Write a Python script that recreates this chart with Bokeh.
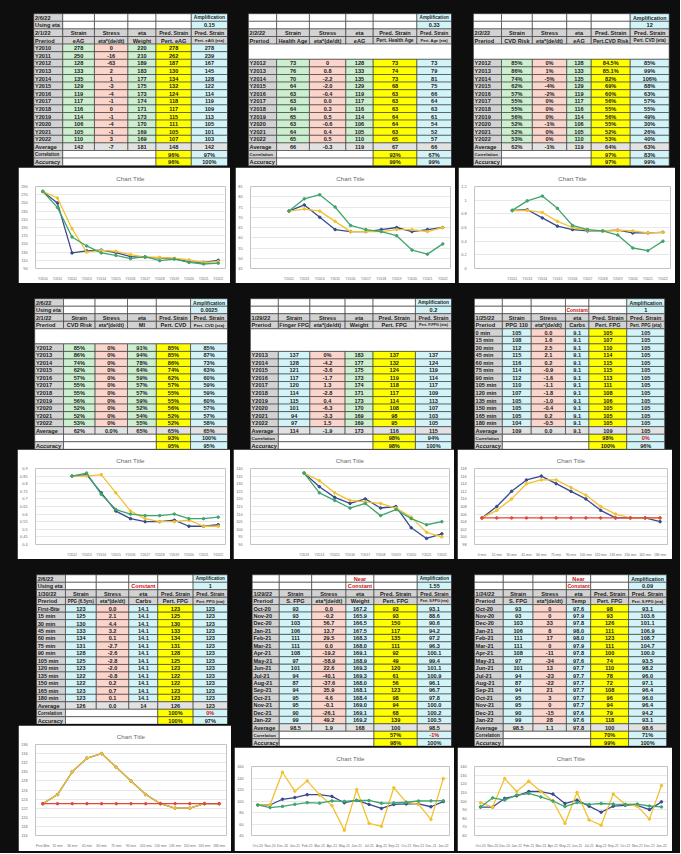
from bokeh.plotting import figure
from bokeh.layouts import row, column
from bokeh.models import Range1d, FactorRange, ColumnDataSource, FixedTicker, Legend, LegendItem
from bokeh.embed import file_html
from bokeh.resources import INLINE
from bokeh.core.properties import value

# ---------------- DATA ----------------
YEARS_10 = ["Y2010", "Y2011", "Y2012", "Y2013", "Y2014", "Y2015", "Y2016", "Y2017", "Y2018", "Y2019", "Y2020", "Y2021", "Y2022"]
YEARS_12 = ["Y2012", "Y2013", "Y2014", "Y2015", "Y2016", "Y2017", "Y2018", "Y2019", "Y2020", "Y2021", "Y2022"]
YEARS_13 = ["Y2013", "Y2014", "Y2015", "Y2016", "Y2017", "Y2018", "Y2019", "Y2020", "Y2021", "Y2022"]
MINUTES_0 = ["0 min", "15 min", "30 min", "45 min", "60 min", "75 min", "90 min", "105 min", "120 min", "135 min", "150 min", "165 min", "180 min"]
MINUTES_FB = ["First-Bite", "15 min", "30 min", "45 min", "60 min", "75 min", "90 min", "105 min", "120 min", "135 min", "150 min", "165 min", "180 min"]
MONTHS = ["Oct-20", "Nov-20", "Dec-20", "Jan-21", "Feb-21", "Mar-21", "Apr-21", "May-21", "Jun-21", "Jul-21", "Aug-21", "Sep-21", "Oct-21", "Nov-21", "Dec-21", "Jan-22"]

P1A_STRAIN = [278, 250, 128, 133, 135, 129, 119, 117, 116, 114, 106, 105, 110]
P1A_STRESS = ["0", "-16", "-63", "2", "1", "-3", "-4", "-1", "0", "-1", "-4", "-1", "3"]
P1A_ETA = ["220", "210", "189", "183", "177", "175", "173", "174", "171", "173", "170", "169", "169"]
P1A_PRED = [278, 262, 187, 130, 134, 132, 124, 118, 117, 115, 111, 105, 107]
P1A_PRED_ETA = [278, 239, 167, 145, 128, 122, 114, 119, 109, 113, 105, 101, 103]
P1A_AVG = ["142", "-7", "181", "148", "142"]
P1A_CORR = ["96%", "97%"]
P1A_ACC = ["96%", "100%"]

P1B_STRAIN = [73, 76, 70, 64, 63, 63, 64, 65, 63, 64, 65]
P1B_STRESS = ["0", "0.8", "-2.2", "-2.0", "-0.4", "0.0", "0.3", "0.5", "-0.6", "0.4", "0.5"]
P1B_ETA = ["128", "133", "135", "129", "119", "117", "116", "114", "106", "105", "110"]
P1B_PRED = [73, 74, 73, 68, 63, 63, 63, 64, 64, 63, 65]
P1B_PRED_ETA = [73, 79, 81, 75, 66, 64, 63, 61, 54, 52, 57]
P1B_AVG = ["66", "-0.3", "119", "67", "66"]
P1B_CORR = ["93%", "67%"]
P1B_ACC = ["99%", "99%"]

P1C_STRAIN = [0.85, 0.86, 0.74, 0.62, 0.57, 0.55, 0.55, 0.56, 0.52, 0.52, 0.53]
P1C_STRESS = ["0%", "1%", "-5%", "-4%", "-2%", "0%", "0%", "0%", "-1%", "0%", "0%"]
P1C_ETA = ["128", "133", "135", "129", "119", "117", "116", "114", "106", "105", "110"]
P1C_PRED = [0.845, 0.851, 0.82, 0.69, 0.60, 0.56, 0.55, 0.56, 0.55, 0.52, 0.53]
P1C_PRED_ETA = [0.85, 0.99, 1.06, 0.88, 0.63, 0.57, 0.55, 0.49, 0.30, 0.26, 0.40]
P1C_AVG = ["62%", "-1%", "119", "64%", "63%"]
P1C_CORR = ["97%", "83%"]
P1C_ACC = ["97%", "99%"]

P2A_STRAIN = [0.85, 0.86, 0.74, 0.62, 0.57, 0.55, 0.55, 0.56, 0.52, 0.52, 0.53]
P2A_STRESS = ["0%", "0%", "0%", "0%", "0%", "0%", "0%", "0%", "0%", "0%", "0%"]
P2A_ETA = ["91%", "94%", "78%", "64%", "59%", "57%", "57%", "59%", "52%", "54%", "55%"]
P2A_PRED = [0.85, 0.85, 0.86, 0.74, 0.62, 0.57, 0.55, 0.55, 0.56, 0.52, 0.52]
P2A_PRED_ETA = [0.85, 0.87, 0.73, 0.63, 0.60, 0.59, 0.59, 0.60, 0.57, 0.57, 0.58]
P2A_AVG = ["62%", "0.0%", "65%", "65%", "65%"]
P2A_CORR = ["93%", "100%"]
P2A_ACC = ["95%", "95%"]

P2B_STRAIN = [137, 128, 121, 117, 120, 114, 115, 101, 94, 97]
P2B_STRESS = ["0%", "-4.2", "-3.6", "-1.7", "1.3", "-2.8", "0.4", "-6.3", "-3.3", "1.5"]
P2B_ETA = ["183", "177", "175", "173", "174", "171", "173", "170", "169", "169"]
P2B_PRED = [137, 132, 124, 119, 118, 117, 114, 108, 98, 95]
P2B_PRED_ETA = [137, 124, 119, 114, 117, 109, 113, 107, 103, 105]
P2B_AVG = ["114", "-1.9", "173", "116", "115"]
P2B_CORR = ["98%", "94%"]
P2B_ACC = ["98%", "100%"]

P2C_STRAIN = [105, 108, 112, 115, 116, 114, 112, 110, 107, 105, 105, 105, 104]
P2C_STRESS = ["0.0", "1.6", "2.5", "2.1", "0.2", "-0.9", "-1.6", "-1.1", "-1.8", "-1.0", "-0.4", "0.2", "-0.5"]
P2C_ETA = ["9.1", "9.1", "9.1", "9.1", "9.1", "9.1", "9.1", "9.1", "9.1", "9.1", "9.1", "9.1", "9.1"]
P2C_PRED = [105, 107, 110, 114, 115, 115, 113, 111, 108, 106, 105, 105, 105]
P2C_PRED_ETA = [105, 105, 105, 105, 105, 105, 105, 105, 105, 105, 105, 105, 105]
P2C_AVG = ["109", "0.0", "9.1", "109", "105"]
P2C_CORR = ["98%", "0%"]
P2C_ACC = ["100%", "96%"]

P3A_STRAIN = [123, 125, 130, 133, 134, 131, 128, 125, 123, 122, 122, 123, 123]
P3A_STRESS = ["0.0", "2.1", "4.4", "3.2", "0.1", "-2.7", "-2.6", "-2.8", "-2.0", "-0.8", "0.2", "0.7", "0.1"]
P3A_ETA = ["14.1", "14.1", "14.1", "14.1", "14.1", "14.1", "14.1", "14.1", "14.1", "14.1", "14.1", "14.1", "14.1"]
P3A_PRED = [123, 125, 130, 133, 134, 131, 128, 125, 123, 122, 122, 123, 123]
P3A_PRED_ETA = [123, 123, 123, 123, 123, 123, 123, 123, 123, 123, 123, 123, 123]
P3A_AVG = ["126", "0.0", "14", "126", "123"]
P3A_CORR = ["100%", "0%"]
P3A_ACC = ["100%", "97%"]

P3B_STRAIN = [93, 93, 103, 106, 111, 111, 108, 97, 101, 94, 87, 94, 95, 95, 90, 99]
P3B_STRESS = ["0.0", "-0.2", "56.7", "13.7", "29.5", "0.0", "-19.2", "-58.9", "22.6", "-40.1", "-37.6", "35.9", "4.6", "-0.1", "-26.1", "49.2"]
P3B_ETA = ["167.2", "165.9", "166.5", "167.5", "168.3", "168.0", "169.1", "168.9", "169.3", "169.3", "168.0", "168.1", "168.4", "169.0", "169.1", "169.2"]
P3B_PRED = [93, 93, 150, 117, 135, 111, 92, 49, 120, 61, 56, 123, 98, 94, 68, 139]
P3B_PRED_ETA = [93.1, 88.6, 90.6, 94.2, 97.2, 96.3, 100.1, 99.4, 101.1, 100.9, 96.1, 96.7, 97.8, 100.0, 100.2, 100.5]
P3B_AVG = ["98.5", "1.9", "168", "100", "98.5"]
P3B_CORR = ["57%", "-1%"]
P3B_ACC = ["98%", "100%"]

P3C_STRAIN = [93, 93, 103, 106, 111, 111, 108, 97, 101, 94, 87, 94, 95, 95, 90, 99]
P3C_STRESS = ["0", "0", "33", "8", "17", "0", "-11", "-34", "13", "-23", "-22", "21", "3", "0", "-15", "28"]
P3C_ETA = ["97.6", "97.9", "97.8", "98.0", "98.0", "97.9", "97.8", "97.6", "97.7", "97.7", "97.7", "97.7", "97.7", "97.7", "97.6", "97.6"]
P3C_PRED = [98, 93, 126, 111, 123, 111, 100, 74, 110, 78, 72, 108, 96, 94, 79, 118]
P3C_PRED_ETA = [93.1, 103.6, 101.1, 106.9, 108.7, 104.7, 100.0, 93.5, 98.2, 96.0, 97.1, 96.4, 96.0, 96.4, 94.2, 93.1]
P3C_AVG = ["98.5", "1.1", "97.8", "100", "98.6"]
P3C_CORR = ["70%", "71%"]
P3C_ACC = ["99%", "100%"]

# ---------------- STYLE ----------------
FONT = "Liberation Sans"
FONT_VALUE = value(FONT)
BLACK = "#0e0e0e"
WHITE = "#ffffff"
GRAY = "#d2d2d2"
LGRAY = "#e2e2e2"
GREEN = "#ccefcf"
PINK = "#fbd5cc"
YELLOW = "#ffff00"
CYAN = "#d2f4f8"
TXT = "#1c1c1c"
RED = "#d01010"
C_BLUE = "#3a4a8e"
C_YEL = "#f2c12e"
C_GRN = "#3fa56c"
C_RED = "#e2483a"


def fmt(v, kind):
    if kind == "int":
        return f"{v:.0f}"
    if kind == "1f":
        return f"{v:.1f}"
    p = v * 100
    if abs(p - round(p)) < 1e-6:
        return f"{round(p)}%"
    return f"{p:.1f}%"


def make_table(pn, edges, W, H, y0, rh):
    q = dict(left=[], right=[], top=[], bottom=[], fill=[])
    tl = dict(x=[], y=[], text=[], color=[], fs=[])
    tcn = dict(x=[], y=[], text=[], color=[], fs=[])

    def cell(c0, c1, r0, r1, fill, text="", color=TXT, align="center"):
        x0, x1 = edges[c0], edges[c1]
        yt, yb = y0 + r0 * rh, y0 + r1 * rh
        q["left"].append(x0); q["right"].append(x1)
        q["top"].append(yt); q["bottom"].append(yb); q["fill"].append(fill)
        if text:
            w = x1 - x0
            fs = min(5.6, (w - 3) / (0.58 * len(text)))
            d = tl if align == "left" else tcn
            d["x"].append(x0 + 1.3 if align == "left" else (x0 + x1) / 2)
            d["y"].append((yt + yb) / 2 + 0.2)
            d["text"].append(text); d["color"].append(color)
            d["fs"].append(f"{fs:.2f}px")

    r = 0
    for k in range(2):
        cell(0, 1, r, r + 1, GRAY if pn["top"][k] else WHITE, pn["top"][k], align="left")
        cell(1, 2, r, r + 1, WHITE)
        cell(2, 3, r, r + 1, WHITE)
        cell(3, 4, r, r + 1, WHITE, pn["const"][k], RED)
        cell(4, 5, r, r + 1, WHITE)
        cell(5, 6, r, r + 1, CYAN, ["Amplification", pn["amp"]][k])
        r += 1
    h2 = [pn["date"], "Strain", "Stress", "eta", "Pred. Strain", "Pred. Strain"]
    h3 = ["Preriod"] + pn["heads"]
    for hh in (h2, h3):
        for c in range(6):
            cell(c, c + 1, r, r + 1, GRAY, hh[c], align="left" if c == 0 else "center")
        r += 1
    nb = pn["nblank"]
    if nb:
        cell(0, 6, r, r + nb, WHITE)
        r += nb
    kinds = pn["kinds"]
    fills = [GRAY, pn["sc"], PINK, pn["ec"], YELLOW, CYAN]
    for i, per in enumerate(pn["periods"]):
        vals = [per, fmt(pn["strain"][i], kinds[0]), pn["stress"][i], pn["eta"][i],
                fmt(pn["pred"][i], kinds[1]), fmt(pn["pred_eta"][i], kinds[2])]
        for c in range(6):
            cell(c, c + 1, r, r + 1, fills[c], vals[c], align="left" if c == 0 else "center")
        r += 1
    avg = ["Average"] + pn["avg"]
    for c in range(6):
        cell(c, c + 1, r, r + 1, GRAY if c == 0 else LGRAY, avg[c], align="left" if c == 0 else "center")
    r += 1
    for lab, vals in ((pn["corr_label"], pn["corr"]), ("Accuracy", pn["acc"])):
        cell(0, 1, r, r + 1, GRAY if lab else WHITE, lab, align="left")
        cell(1, 4, r, r + 1, WHITE)
        cell(4, 5, r, r + 1, YELLOW, vals[0])
        red = vals[1] == "0%" or vals[1].startswith("-")
        cell(5, 6, r, r + 1, CYAN, vals[1], RED if red else TXT)
        r += 1

    p = figure(width=W, height=H, x_range=Range1d(0, W), y_range=Range1d(H, 0),
               output_backend="svg", toolbar_location=None, x_axis_type=None, y_axis_type=None,
               min_border=0, background_fill_color=BLACK, border_fill_color=BLACK,
               outline_line_color=None)
    p.grid.visible = False
    p.quad(left="left", right="right", top="top", bottom="bottom", fill_color="fill",
           line_color="#3a3a3a", line_width=0.6, source=ColumnDataSource(q))
    p.text(x="x", y="y", text="text", text_color="color", text_font_size="fs",
           text_align="left", text_baseline="middle", text_font_style="bold",
           text_font=FONT_VALUE, source=ColumnDataSource(tl))
    p.text(x="x", y="y", text="text", text_color="color", text_font_size="fs",
           text_align="center", text_baseline="middle", text_font_style="bold",
           text_font=FONT_VALUE, source=ColumnDataSource(tcn))
    return p


def make_chart(pn, W, H, margin, mtop, mleft, mbot):
    nb = pn["nblank"]
    cats = [" " * (k + 1) for k in range(nb)] + list(pn["periods"])
    y0, y1, step = pn["yr"]
    p = figure(width=W, height=H, x_range=FactorRange(factors=cats), y_range=Range1d(y0, y1),
               output_backend="svg", toolbar_location=None, title="Chart Title", margin=margin,
               min_border_left=mleft, min_border_right=5, min_border_top=mtop, min_border_bottom=mbot,
               background_fill_color=WHITE, border_fill_color=WHITE, outline_line_color=None)
    n = int(round((y1 - y0) / step))
    ticks = [round(y0 + i * step, 6) for i in range(n + 1)]
    p.yaxis.ticker = FixedTicker(ticks=ticks)
    p.yaxis.major_label_overrides = {t: f"{t:g}" for t in ticks}
    for ax in (p.xaxis, p.yaxis):
        ax.axis_line_color = None
        ax.major_tick_line_color = None
        ax.minor_tick_line_color = None
        ax.major_label_text_color = "#6a6a6a"
        ax.major_label_text_font = FONT
        ax.major_label_standoff = 2
    p.xaxis.major_label_text_font_size = "3.4px"
    p.yaxis.major_label_text_font_size = "3.8px"
    p.xgrid.grid_line_color = None
    p.ygrid.grid_line_color = "#d9d9d9"
    p.ygrid.grid_line_width = 0.6
    p.title.align = "center"
    p.title.text_font_size = "6.2px"
    p.title.text_font_style = "normal"
    p.title.text_color = "#6a6a6a"
    p.title.text_font = FONT
    xs = list(pn["periods"])
    series = [(pn["strain"], C_BLUE, pn["heads"][0]),
              (pn["pred"], C_YEL, pn["heads"][3]),
              (pn["pred_eta"], pn["third"], pn["heads"][4])]
    items = []
    for vals, color, name in series:
        ln = p.line(xs, vals, line_color=color, line_width=1.3)
        sc = p.scatter(xs, vals, size=2.5, fill_color=color, line_color=color)
        items.append(LegendItem(label=name, renderers=[ln, sc]))
    leg = Legend(items=items, orientation="horizontal", location="bottom_center",
                 label_text_font_size="3.4px", label_text_font=FONT, label_text_color="#6a6a6a",
                 glyph_width=9, glyph_height=3, label_standoff=2, spacing=8, padding=1,
                 margin=-(mbot - 2), border_line_color=None, background_fill_alpha=0,
                 label_height=3)
    p.add_layout(leg)
    return p


def panel(top, const, amp, date, heads, periods, nblank, strain, stress, eta, pred, pred_eta,
          avg, corr, acc, kinds, sc, ec, yr, third, corr_label="Correlation"):
    return dict(top=top, const=const, amp=amp, date=date, heads=heads, periods=periods, nblank=nblank,
                strain=strain, stress=stress, eta=eta, pred=pred, pred_eta=pred_eta, avg=avg,
                corr=corr, acc=acc, kinds=kinds, sc=sc, ec=ec, yr=yr, third=third, corr_label=corr_label)


I3 = ("int", "int", "int")
PCT = ("pct", "pct", "pct")
F1 = ("int", "int", "1f")

p1a = panel(["2/6/22", "Using eta"], ["", ""], "0.15", "2/1/22",
            ["eAG", "eta*(de/dt)", "Weight", "Pert. eAG", "Pert. eAG (eta)"], YEARS_10, 0,
            P1A_STRAIN, P1A_STRESS, P1A_ETA, P1A_PRED, P1A_PRED_ETA, P1A_AVG, P1A_CORR, P1A_ACC,
            I3, GREEN, GREEN, (90, 290, 20), C_GRN)
p1b = panel(["", ""], ["", ""], "0.33", "2/2/22",
            ["Health Age", "eta*(de/dt)", "eAG", "Pert. Health Age", "Pert. Age (eta)"], YEARS_12, 2,
            P1B_STRAIN, P1B_STRESS, P1B_ETA, P1B_PRED, P1B_PRED_ETA, P1B_AVG, P1B_CORR, P1B_ACC,
            I3, GREEN, GREEN, (45, 85, 5), C_GRN)
p1c = panel(["", ""], ["", ""], "12", "2/2/22",
            ["CVD Risk", "eta*(de/dt)", "eAG", "Pert.CVD Risk", "Pert. CVD (eta)"], YEARS_12, 2,
            P1C_STRAIN, P1C_STRESS, P1C_ETA, P1C_PRED, P1C_PRED_ETA, P1C_AVG, P1C_CORR, P1C_ACC,
            PCT, GREEN, GREEN, (0, 1.2, 0.2), C_GRN)
p2a = panel(["2/6/22", "Using eta"], ["", ""], "0.0025", "2/1/22",
            ["CVD Risk", "eta*(de/dt)", "MI", "Pert. CVD", "Pert. CVD (eta)"], YEARS_12, 2,
            P2A_STRAIN, P2A_STRESS, P2A_ETA, P2A_PRED, P2A_PRED_ETA, P2A_AVG, P2A_CORR, P2A_ACC,
            PCT, GREEN, GREEN, (0.4, 0.9, 0.05), C_GRN, corr_label="")
p2b = panel(["", ""], ["", ""], "0.2", "1/29/22",
            ["Finger FPG", "eta*(de/dt)", "Weight", "Pert. FPG", "Pert. F.FPG (eta)"], YEARS_13, 3,
            P2B_STRAIN, P2B_STRESS, P2B_ETA, P2B_PRED, P2B_PRED_ETA, P2B_AVG, P2B_CORR, P2B_ACC,
            I3, CYAN, GREEN, (90, 140, 5), C_GRN)
p2c = panel(["", ""], ["", "Constant"], "1", "1/25/22",
            ["PPG 110", "eta*(de/dt)", "Carbs", "Pert. FPG", "Pert. PPG (eta)"], MINUTES_0, 0,
            P2C_STRAIN, P2C_STRESS, P2C_ETA, P2C_PRED, P2C_PRED_ETA, P2C_AVG, P2C_CORR, P2C_ACC,
            I3, CYAN, CYAN, (98, 118, 2), C_RED)
p3a = panel(["2/6/22", "Using eta"], ["", "Constant"], "1", "1/30/22",
            ["PPG (6.5yrs)", "eta*(de/dt)", "Carbs", "Pert. FPG", "Pert. PPG (eta)"], MINUTES_FB, 0,
            P3A_STRAIN, P3A_STRESS, P3A_ETA, P3A_PRED, P3A_PRED_ETA, P3A_AVG, P3A_CORR, P3A_ACC,
            I3, CYAN, CYAN, (116, 136, 2), C_RED)
p3b = panel(["", ""], ["Near", "Constant"], "1.55", "1/29/22",
            ["S. FPG", "eta*(de/dt)", "Weight", "Pert. FPG", "Pert. S.FPG (eta)"], MONTHS, 0,
            P3B_STRAIN, P3B_STRESS, P3B_ETA, P3B_PRED, P3B_PRED_ETA, P3B_AVG, P3B_CORR, P3B_ACC,
            F1, CYAN, CYAN, (40, 160, 20), C_GRN)
p3c = panel(["", ""], ["Near", "Constant"], "0.09", "1/24/22",
            ["S. FPG", "eta*(de/dt)", "Temp", "Pert. FPG", "Pert. S.FPG (eta)"], MONTHS, 0,
            P3C_STRAIN, P3C_STRESS, P3C_ETA, P3C_PRED, P3C_PRED_ETA, P3C_AVG, P3C_CORR, P3C_ACC,
            F1, CYAN, CYAN, (60, 140, 10), C_GRN)

WA, WB, WC = 232, 224, 224

# Band 1 (page y 0..284)
t1a = make_table(p1a, [18, 50, 85, 122, 153, 192, 232], WA, 167, 13.2, 7.6)
t1b = make_table(p1b, [1, 32, 68, 108, 138, 186, 224], WB, 167, 13.2, 7.6)
t1c = make_table(p1c, [1, 32, 66, 104, 131, 174, 217], WC, 167, 13.2, 7.6)
c1a = make_chart(p1a, 212, 116, (0, 2, 1, 18), 14, 11, 15)
c1b = make_chart(p1b, 220, 116, (0, 1, 1, 3), 14, 9, 15)
c1c = make_chart(p1c, 217, 116, (0, 5, 1, 2), 14, 9, 15)

# Band 2 (page y 284..562)
t2a = make_table(p2a, [18, 50, 85, 121, 153, 191, 232], WA, 165, 14.2, 7.53)
t2b = make_table(p2b, [1, 32, 67, 106, 137, 184, 224], WB, 165, 14.2, 7.53)
t2c = make_table(p2c, [1, 32, 64, 102, 128, 170, 212], WC, 165, 14.2, 7.53)
c2a = make_chart(p2a, 213, 110, (0, 2, 3, 17), 19, 10, 14)
c2b = make_chart(p2b, 221, 110, (0, 2, 3, 1), 19, 9, 14)
c2c = make_chart(p2c, 215, 110, (0, 8, 3, 1), 19, 9, 14)

# Band 3 (page y 562..853)
t3a = make_table(p3a, [21, 53, 87, 123, 155, 194, 232], WA, 162, 12.3, 7.47)
t3b = make_table(p3b, [3, 33, 69, 107, 138, 186, 224], WB, 184, 12.3, 7.45)
t3c = make_table(p3c, [1, 33, 66, 103, 130, 172, 214], WC, 184, 12.3, 7.45)
c3a = make_chart(p3a, 213, 126, (1, 1, 2, 18), 17, 10, 16)
c3b = make_chart(p3b, 220, 104, (1, 2, 2, 2), 17, 9, 16)
c3c = make_chart(p3c, 215, 104, (1, 8, 2, 1), 17, 9, 16)

band1 = row(column(t1a, c1a), column(t1b, c1b), column(t1c, c1c))
band2 = row(column(t2a, c2a), column(t2b, c2b), column(t2c, c2c))
band3 = row(column(t3a, c3a), column(t3b, c3b), column(t3c, c3c))
root = column(band1, band2, band3, styles={"background-color": BLACK})

open("out.html", "w").write(file_html(root, INLINE))
